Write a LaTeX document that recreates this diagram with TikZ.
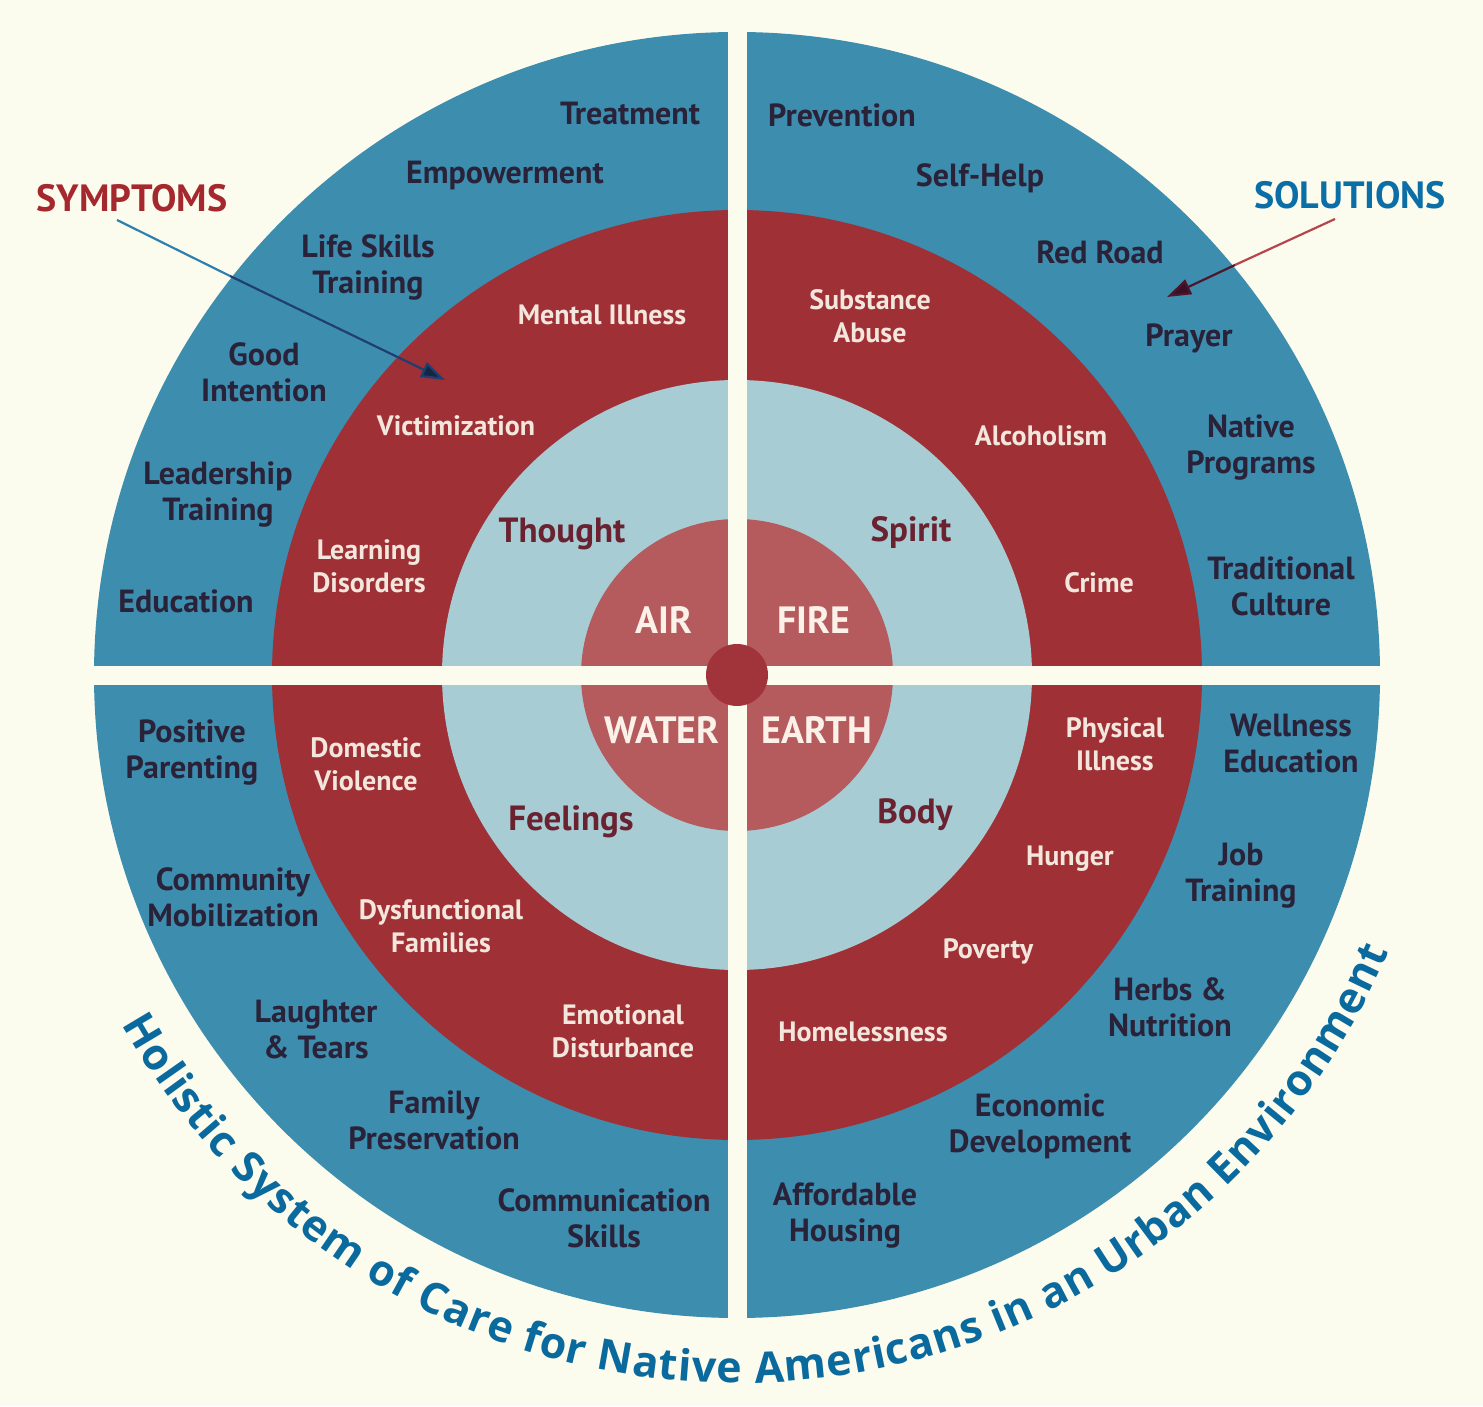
\documentclass[tikz,border=0pt]{standalone}
\usepackage{fontspec}
\setmainfont{PT Sans}
\newfontfamily\titlefont{Open Sans}
\usetikzlibrary{arrows.meta,decorations.text}
\definecolor{bgc}{HTML}{FCFCEE}
\definecolor{outerblue}{HTML}{3D8DAF}
\definecolor{redring}{HTML}{9E3036}
\definecolor{lightring}{HTML}{A8CCD4}
\definecolor{rosec}{HTML}{B55B5D}
\definecolor{dotc}{HTML}{A0343A}
\definecolor{outertxt}{HTML}{2A2238}
\definecolor{redtxt}{HTML}{F3E6DC}
\definecolor{lighttxt}{HTML}{6A2230}
\definecolor{innertxt}{HTML}{FBF1E8}
\definecolor{titleblue}{HTML}{0A6A9E}
\definecolor{symred}{HTML}{A5282E}
\definecolor{solblue}{HTML}{0B6EA6}
\definecolor{navyline}{HTML}{1F3F70}
\definecolor{lineblue}{HTML}{2F80AE}
\definecolor{linered}{HTML}{B5464E}
\definecolor{darkred}{HTML}{3A1028}
\begin{document}
\begin{tikzpicture}[x=1pt,y=1pt,
  outerlbl/.style={font=\bfseries\fontsize{32}{36}\selectfont, text=outertxt, align=center, inner sep=0pt},
  redlbl/.style={font=\bfseries\fontsize{28}{33}\selectfont, text=redtxt, align=center, inner sep=0pt},
  lightlbl/.style={font=\bfseries\fontsize{35}{40}\selectfont, text=lighttxt, align=center, inner sep=0pt},
  innerlbl/.style={font=\bfseries\fontsize{38}{40}\selectfont, text=innertxt, align=center, inner sep=0pt},
  sidelbl/.style={font=\bfseries\fontsize{38}{40}\selectfont, inner sep=0pt},
  gap/.style={fill=bgc, draw=none}
]
\useasboundingbox (0,0) rectangle (1483,1406);
\fill[bgc] (0,0) rectangle (1483,1406);
\coordinate (c) at (737,731);
% rings
\fill[outerblue] (c) circle[radius=643];
\fill[redring] (c) circle[radius=465];
\fill[lightring] (c) circle[radius=295];
\fill[rosec] (c) circle[radius=156];
% cross gaps
\fill[gap] (727.5,60) rectangle (746.5,1390);
\fill[gap] (80,721) rectangle (1395,740);
\fill[dotc] (c) circle[radius=31];

% outer ring, top left
\node[outerlbl] (treat) at (630,1292) {Treatment};
\node[outerlbl] (empow) at (505,1230) {Empowerment};
\node[outerlbl] (life) at (368,1139) {Life Skills\\Training};
\node[outerlbl] (good) at (264,1034) {Good\\Intention};
\node[outerlbl] (lead) at (218,911) {Leadership\\Training};
\node[outerlbl] (edu) at (186,805) {Education};
% outer ring, top right
\node[outerlbl] (prev) at (842,1291) {Prevention};
\node[outerlbl] (self) at (980,1228) {Self-Help};
\node[outerlbl] (redroad) at (1100,1154) {Red Road};
\node[outerlbl] (prayer) at (1189,1068) {Prayer};
\node[outerlbl] (native) at (1251,958) {Native\\Programs};
\node[outerlbl] (trad) at (1281,820) {Traditional\\Culture};
% outer ring, bottom left
\node[outerlbl] (pos) at (192,653) {Positive\\Parenting};
\node[outerlbl] (comm) at (233,509) {Community\\Mobilization};
\node[outerlbl] (laugh) at (316,376) {Laughter\\\& Tears};
\node[outerlbl] (fam) at (434,286) {Family\\Preservation};
\node[outerlbl] (commsk) at (604,188) {Communication\\Skills};
% outer ring, bottom right
\node[outerlbl] (well) at (1291,662) {Wellness\\Education};
\node[outerlbl] (job) at (1241,530) {Job\\Training};
\node[outerlbl] (herbs) at (1170,399) {Herbs \&\\Nutrition};
\node[outerlbl] (econ) at (1040,280) {Economic\\Development};
\node[outerlbl] (afford) at (845,190) {Affordable\\Housing};

% red ring
\node[redlbl] (mental) at (602,1091) {Mental Illness};
\node[redlbl] (victim) at (456,980) {Victimization};
\node[redlbl] (learn) at (369,840) {Learning\\Disorders};
\node[redlbl] (subst) at (870,1090) {Substance\\Abuse};
\node[redlbl] (alco) at (1041,970) {Alcoholism};
\node[redlbl] (crime) at (1099,823) {Crime};
\node[redlbl] (domest) at (366,642) {Domestic\\Violence};
\node[redlbl] (dysf) at (441,480) {Dysfunctional\\Families};
\node[redlbl] (emot) at (623,375) {Emotional\\Disturbance};
\node[redlbl] (phys) at (1115,662) {Physical\\Illness};
\node[redlbl] (hunger) at (1070,547) {Hunger};
\node[redlbl] (pov) at (988,455) {Poverty};
\node[redlbl] (home) at (863,374) {Homelessness};

% light ring
\node[lightlbl] (thought) at (562,872) {Thought};
\node[lightlbl] (spirit) at (911,873) {Spirit};
\node[lightlbl] (feel) at (571,584) {Feelings};
\node[lightlbl] (body) at (915,591) {Body};

% inner
\node[innerlbl] (air) at (664,786) {AIR};
\node[innerlbl] (fire) at (814,786) {FIRE};
\node[innerlbl] (water) at (662,676) {WATER};
\node[innerlbl] (earth) at (817,676) {EARTH};

% side labels and arrows
\node[sidelbl, text=symred] (sym) at (132,1208) {SYMPTOMS};
\node[sidelbl, text=solblue] (sol) at (1350,1211) {SOLUTIONS};
\coordinate (s1) at (117,1186);
\coordinate (s1m) at (230,1130);
\coordinate (s1t) at (445,1026);
\coordinate (s2) at (1335,1187);
\coordinate (s2m) at (1235,1141);
\coordinate (s2t) at (1167,1109);
\draw[lineblue, line width=2.2pt] (s1) -- (s1m);
\draw[navyline, line width=2.2pt, -{Triangle[length=24pt,width=16pt,fill=navyline!60!black]}] (s1m) -- (s1t);
\draw[linered, line width=2.2pt] (s2) -- (s2m);
\draw[darkred!80!redring, line width=2.2pt, -{Triangle[length=24pt,width=16pt,fill=darkred]}] (s2m) -- (s2t);

% title along arc
\path[decorate, decoration={text along path, text align=fit to path,
  text={|\titlefont\bfseries\fontsize{43}{50}\selectfont\color{titleblue}|Holistic System of Care for Native Americans in an Urban Environment}}]
  (c) ++(209.6:708) arc[start angle=209.6, end angle=337, radius=708];
\end{tikzpicture}
\end{document}
